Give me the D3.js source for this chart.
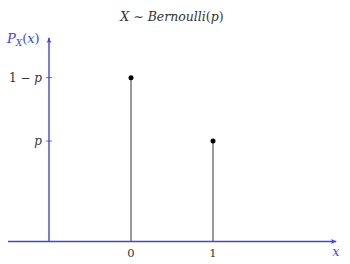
<!DOCTYPE html>
<html>
<head>
<meta charset="utf-8">
<script src="https://cdn.jsdelivr.net/npm/d3@7"></script>
<style>
  body { margin: 0; background: #fff; }
  svg { display: block; }
</style>
</head>
<body>
<div id="chart"></div>
<script>
// Data
const outcomes = [0, 1];
const probs = [0.62, 0.38];
const probLabels = ["1 − p", "p"];
const xTicks = [0, 1];

const width = 350;
const height = 264;
const AXIS_COLOR = "#4343d6";
const TEXT_COLOR = "#333";
const FONT = "'DejaVu Serif', 'Liberation Serif', serif";

const x = d3.scaleLinear().domain([-1.5, 2.5]).range([8, 336]);
const y = d3.scaleLinear().domain([0, 0.77]).range([241.5, 38]);
const xAxisAt = -1; // y axis sits at x = -1

const svg = d3.select("#chart")
  .append("svg")
  .attr("width", width)
  .attr("height", height)
  .attr("font-family", FONT);

// Arrow heads
const defs = svg.append("defs");
defs.append("marker")
  .attr("id", "arrow")
  .attr("viewBox", "0 0 10 10")
  .attr("refX", 8)
  .attr("refY", 5)
  .attr("markerWidth", 4.5)
  .attr("markerHeight", 4.5)
  .attr("orient", "auto")
  .append("path")
  .attr("d", "M0,1 Q5,4 10,5 Q5,6 0,9 Q3,5 0,1 Z")
  .attr("fill", AXIS_COLOR);

// Title
svg.append("text")
  .attr("x", 172)
  .attr("y", 21)
  .attr("text-anchor", "middle")
  .attr("font-size", "12.5px")
  .attr("fill", TEXT_COLOR)
  .html('<tspan font-style="italic">X</tspan> ∼ <tspan font-style="italic">Bernoulli</tspan>(<tspan font-style="italic">p</tspan>)');

// Horizontal axis
svg.append("line")
  .attr("x1", x(-1.5))
  .attr("x2", x(2.5))
  .attr("y1", y(0))
  .attr("y2", y(0))
  .attr("stroke", AXIS_COLOR)
  .attr("stroke-width", 1.4)
  .attr("marker-end", "url(#arrow)");

// Vertical axis
svg.append("line")
  .attr("x1", x(xAxisAt))
  .attr("x2", x(xAxisAt))
  .attr("y1", y(0))
  .attr("y2", y(0.77))
  .attr("stroke", AXIS_COLOR)
  .attr("stroke-width", 1.4)
  .attr("marker-end", "url(#arrow)");

// Axis labels
svg.append("text")
  .attr("x", 7)
  .attr("y", 43)
  .attr("font-size", "13px")
  .attr("fill", AXIS_COLOR)
  .html('<tspan font-style="italic">P</tspan><tspan font-style="italic" font-size="9px" dy="2.5">X</tspan><tspan dy="-2.5">(</tspan><tspan font-style="italic">x</tspan>)');

svg.append("text")
  .attr("x", x(2.5))
  .attr("y", 256)
  .attr("text-anchor", "middle")
  .attr("font-size", "12px")
  .attr("font-style", "italic")
  .attr("fill", AXIS_COLOR)
  .text("x");

// y ticks and labels
const yTicks = svg.selectAll(".ytick")
  .data(probs)
  .join("g")
  .attr("class", "ytick");

yTicks.append("line")
  .attr("x1", x(xAxisAt) - 3)
  .attr("x2", x(xAxisAt) + 3)
  .attr("y1", d => y(d))
  .attr("y2", d => y(d))
  .attr("stroke", AXIS_COLOR)
  .attr("stroke-width", 0.8);

yTicks.append("text")
  .attr("x", x(xAxisAt) - 7)
  .attr("y", d => y(d) + 4)
  .attr("text-anchor", "end")
  .attr("font-size", "12px")
  .attr("fill", TEXT_COLOR)
  .html((d, i) => probLabels[i] === "p"
    ? '<tspan font-style="italic">p</tspan>'
    : '1 − <tspan font-style="italic">p</tspan>');

// x tick labels
svg.selectAll(".xlabel")
  .data(xTicks)
  .join("text")
  .attr("class", "xlabel")
  .attr("x", d => x(d))
  .attr("y", 257)
  .attr("text-anchor", "middle")
  .attr("font-size", "11.5px")
  .attr("fill", TEXT_COLOR)
  .text(d => d);

// Stems
svg.selectAll(".stem")
  .data(outcomes)
  .join("line")
  .attr("class", "stem")
  .attr("x1", d => x(d))
  .attr("x2", d => x(d))
  .attr("y1", y(0))
  .attr("y2", (d, i) => y(probs[i]))
  .attr("stroke", "#555")
  .attr("stroke-width", 1.2);

// Dots
svg.selectAll(".dot")
  .data(outcomes)
  .join("circle")
  .attr("class", "dot")
  .attr("cx", d => x(d))
  .attr("cy", (d, i) => y(probs[i]))
  .attr("r", 2.5)
  .attr("fill", "#000");
</script>
</body>
</html>
